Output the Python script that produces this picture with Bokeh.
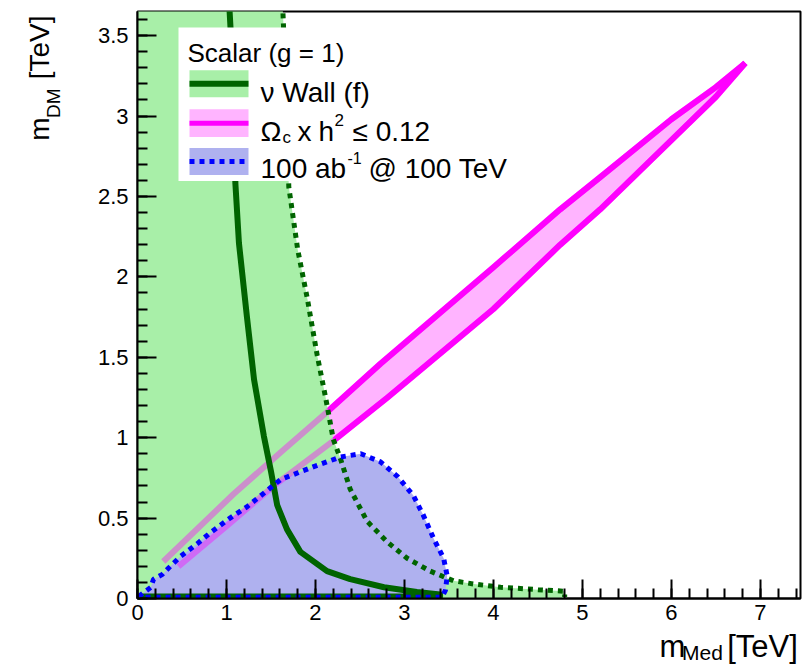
from bokeh.plotting import figure
from bokeh.models import Range1d, FixedTicker, LinearAxis
from bokeh.core.properties import value
from bokeh.embed import file_html
from bokeh.resources import INLINE

# ---------------- data (TeV) ----------------
# nu-wall, outer (dotted) boundary of the excluded region
wall_outer_x = [1.63, 1.66, 1.69, 1.70, 1.80, 1.91, 2.02, 2.11, 2.20, 2.28, 2.39, 2.58,
                2.81, 3.03, 3.29, 3.55, 3.78, 4.08, 4.50, 4.80]
wall_outer_y = [3.70, 3.30, 2.80, 2.56, 2.17, 1.86, 1.51, 1.26, 0.99, 0.87, 0.68, 0.48,
                0.35, 0.25, 0.17, 0.11, 0.09, 0.07, 0.055, 0.045]
# nu-wall, central (solid) curve
wall_x = [1.03, 1.07, 1.10, 1.14, 1.23, 1.31, 1.42, 1.50, 1.57, 1.68, 1.83, 2.13, 2.39,
          2.77, 3.14, 3.40, 3.40, 0.03]
wall_y = [3.70, 3.30, 2.58, 2.21, 1.75, 1.36, 1.01, 0.79, 0.58, 0.43, 0.29, 0.17, 0.12,
          0.07, 0.04, 0.025, 0.012, 0.012]
# relic density band  Omega h^2 <= 0.12
relic_up_x = [0.29, 1.08, 1.61, 2.13, 2.73, 4.00, 4.75, 5.20, 6.00, 6.50, 6.83]
relic_up_y = [0.23, 0.65, 0.91, 1.16, 1.46, 2.06, 2.42, 2.62, 2.98, 3.18, 3.33]
relic_lo_x = [0.46, 1.00, 1.53, 2.20, 2.81, 4.00, 4.75, 5.20, 6.00, 6.50, 6.83]
relic_lo_y = [0.20, 0.45, 0.70, 0.98, 1.25, 1.80, 2.20, 2.42, 2.85, 3.12, 3.33]
# collider reach, 100 ab^-1 @ 100 TeV
reach_x = [0.03, 0.03, 0.15, 0.18, 0.28, 0.35, 0.48, 0.67, 0.82, 1.04, 1.23, 1.61, 1.98,
           2.28, 2.51, 2.73, 2.92, 3.10, 3.21, 3.33, 3.44, 3.48, 3.46, 3.42, 0.03]
reach_y = [0.008, 0.02, 0.07, 0.12, 0.15, 0.19, 0.26, 0.34, 0.41, 0.50, 0.57, 0.74, 0.82,
           0.88, 0.90, 0.85, 0.76, 0.64, 0.52, 0.37, 0.25, 0.14, 0.05, 0.008, 0.008]

x_ticks = [0, 1, 2, 3, 4, 5, 6, 7]
y_ticks = [0, 0.5, 1, 1.5, 2, 2.5, 3, 3.5]
y_tick_labels = ["0", "0.5", "1", "1.5", "2", "2.5", "3", "3.5"]

XMAX, YMAX = 7.45, 3.65

# ---------------- layout helpers ----------------
W, H = 812, 666
L, R, T, B = 137, 12, 11, 66
FW, FH = W - L - R, H - T - B


def dx(px):
    return round(XMAX * (px - L) / FW, 4)


def dy(py):
    return round(YMAX * (T + FH - py) / FH, 4)


FONT = "Liberation Sans"
GREEN_FILL = "#a8efa8"
DARK_GREEN = "#006400"
PINK_FILL = "#ffb4ff"
MAGENTA = "#ff00ff"
BLUE_FILL = "#afb1ef"
BLUE = "#0000ff"

p = figure(width=W, height=H, output_backend="svg", toolbar_location=None,
           x_range=Range1d(0, XMAX), y_range=Range1d(0, YMAX),
           min_border_left=L, min_border_right=R, min_border_top=T, min_border_bottom=B)
p.background_fill_color = "white"
p.border_fill_color = "white"
p.grid.visible = False
p.outline_line_color = "black"
p.outline_line_width = 2

p.xaxis.ticker = FixedTicker(ticks=x_ticks,
                             minor_ticks=[i * 0.2 for i in range(0, 38)])
p.yaxis.ticker = FixedTicker(ticks=y_ticks,
                             minor_ticks=[i * 0.1 for i in range(0, 37)])
p.yaxis.major_label_overrides = {t: s for t, s in zip(y_ticks, y_tick_labels)}
p.xaxis.major_label_overrides = {t: str(t) for t in x_ticks}
for ax in (p.xaxis, p.yaxis):
    ax.axis_line_width = 2
    ax.major_tick_line_width = 2
    ax.minor_tick_line_width = 2
    ax.major_tick_in = 19
    ax.major_tick_out = 0
    ax.minor_tick_in = 10
    ax.minor_tick_out = 0
    ax.major_label_text_font = FONT
    ax.major_label_text_font_size = "22px"
    ax.major_label_text_color = "black"
p.xaxis.major_label_standoff = 6
p.yaxis.major_label_standoff = 9

# ---------------- axis titles (label-only axes, so they sit outside the frame) ----------------


def title_axis(side, ticks, labels, size, standoff, orientation="horizontal"):
    ax = LinearAxis(ticker=FixedTicker(ticks=ticks),
                    major_label_overrides=dict(zip(ticks, labels)),
                    axis_line_color=None, major_tick_line_color=None,
                    minor_tick_line_color=None,
                    major_tick_in=0, major_tick_out=0, minor_tick_in=0, minor_tick_out=0,
                    major_label_standoff=standoff, major_label_text_font=FONT,
                    major_label_text_font_size=size, major_label_text_color="black",
                    major_label_orientation=orientation)
    p.add_layout(ax, side)


# x title: m_Med [TeV]
title_axis("below", [dx(702)], ["Med"], "21px", 18)
title_axis("below", [dx(672), dx(762)], ["m", "[TeV]"], "31px", -38)
# y title: m_DM [TeV]
title_axis("left", [dy(103)], ["DM"], "19px", 30, "parallel")
title_axis("left", [dy(129), dy(47)], ["m", "[TeV]"], "28px", -15, "parallel")

# ---------------- data layers ----------------
band_x = relic_up_x + relic_lo_x[::-1]
band_y = relic_up_y + relic_lo_y[::-1]
p.patch(band_x, band_y, fill_color=PINK_FILL, line_color=None)
p.line(relic_up_x, relic_up_y, line_color=MAGENTA, line_width=6, line_join="round")
p.line(relic_lo_x, relic_lo_y, line_color=MAGENTA, line_width=6, line_join="round")

gx = [0, 0] + wall_outer_x + [wall_outer_x[-1]]
gy = [0, wall_outer_y[0]] + wall_outer_y + [0]
p.patch(gx, gy, fill_color=GREEN_FILL, line_color=None)

p.patch(reach_x, reach_y, fill_color=BLUE_FILL, line_color=None)

p.line(relic_up_x, relic_up_y, line_color=MAGENTA, line_width=6, line_alpha=0.4, line_join="round")
p.line(relic_lo_x, relic_lo_y, line_color=MAGENTA, line_width=6, line_alpha=0.4, line_join="round")

p.line(wall_outer_x + [wall_outer_x[-1]], wall_outer_y + [0.01], line_color=DARK_GREEN,
       line_width=5, line_dash="5 5")
p.line(wall_x, wall_y, line_color=DARK_GREEN, line_width=6, line_join="round")
p.line(reach_x, reach_y, line_color=BLUE, line_width=5, line_dash="5 5")

# ---------------- legend ----------------
p.quad(left=dx(178), right=dx(522), top=dy(27), bottom=dy(181),
       fill_color="white", line_color=None)
sw_l, sw_r = dx(189), dx(248)
p.quad(left=sw_l, right=sw_r, top=dy(70), bottom=dy(97), fill_color=GREEN_FILL, line_color=None)
p.line([sw_l, sw_r], [dy(83.5)] * 2, line_color=DARK_GREEN, line_width=6)
p.quad(left=sw_l, right=sw_r, top=dy(109), bottom=dy(137), fill_color=PINK_FILL, line_color=None)
p.line([sw_l, sw_r], [dy(123)] * 2, line_color=MAGENTA, line_width=5)
p.quad(left=sw_l, right=sw_r, top=dy(148), bottom=dy(175), fill_color=BLUE_FILL, line_color=None)
p.line([sw_l, sw_r], [dy(161.5)] * 2, line_color=BLUE, line_width=5, line_dash="5 5")


def txt(px, py, s, size):
    p.text(x=[dx(px)], y=[dy(py)], text=[s], text_font=value(FONT),
           text_font_size=value(size), text_baseline="alphabetic", text_align="left",
           text_color="black")


txt(187, 53, "Scalar (g = 1)", "26px")
txt(260, 92, "\u03bd Wall (f)", "28px")
txt(260, 131, "\u03a9", "28px")
txt(282, 137, "c", "17px")
txt(297, 131, "x", "28px")
txt(318, 131, "h", "28px")
txt(334, 120, "2", "17px")
txt(352, 131, "\u2264 0.12", "28px")
txt(260, 169, "100 ab", "28px")
txt(347, 158, "-1", "16px")
txt(368, 169, "@ 100 TeV", "28px")

open("out.html", "w").write(file_html(p, INLINE))
